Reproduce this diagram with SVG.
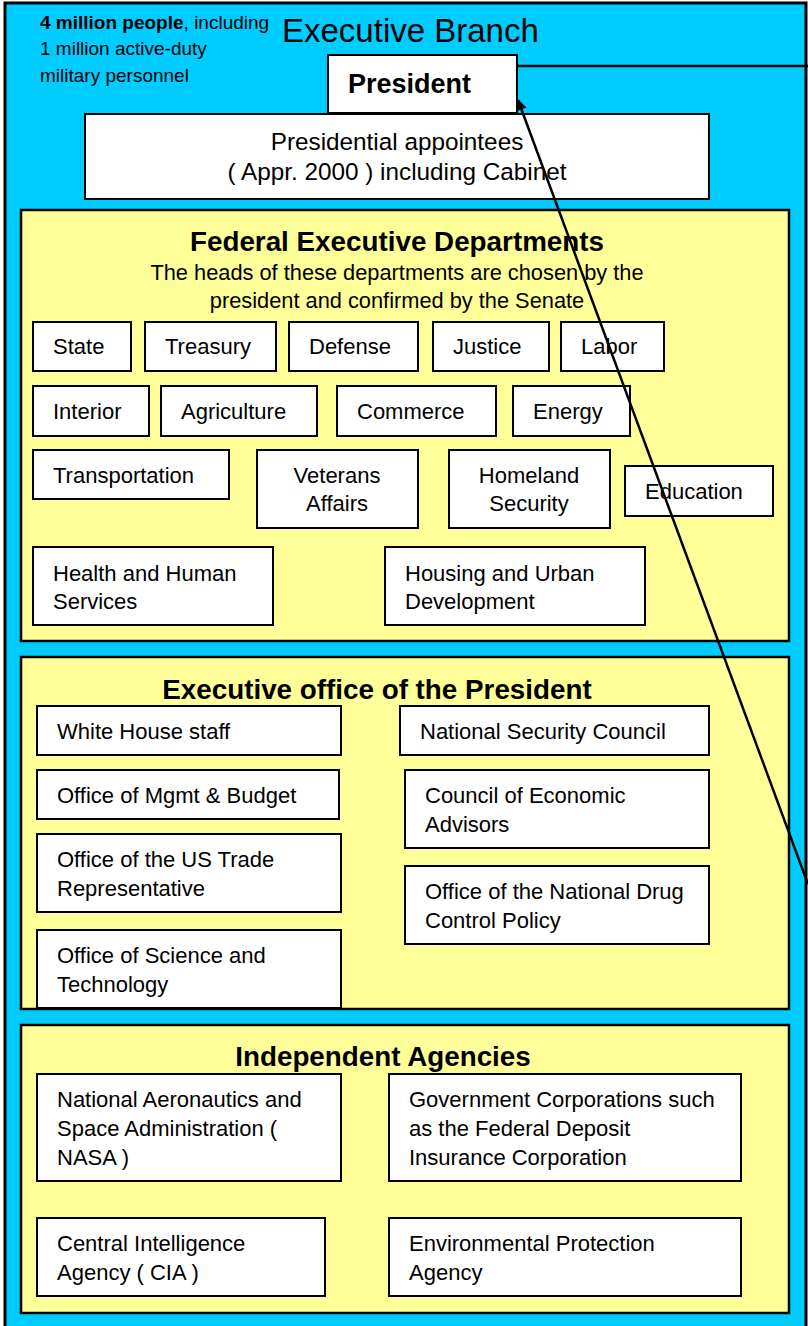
<svg xmlns="http://www.w3.org/2000/svg" width="808" height="1326" viewBox="0 0 808 1326">
<defs>
<style>
.t{font-family:"Liberation Sans",Arial,sans-serif;fill:#000}
.bx{font-size:22px}
.box{fill:#fff;stroke:#000;stroke-width:2}
.grp{fill:#FFFF99;stroke:#000;stroke-width:2.5}
.ttl{font-size:27.8px;font-weight:bold;text-anchor:middle}
.c{text-anchor:middle}
</style>
<marker id="arr" viewBox="0 0 10 10" refX="9" refY="5" markerWidth="13" markerHeight="11" markerUnits="userSpaceOnUse" orient="auto"><path d="M0,0 L10,5 L0,10 z" fill="#000"/></marker>
</defs>
<g id="executive-branch">
<rect x="5" y="3" width="801" height="1340" fill="#00CCFF" stroke="#000" stroke-width="3"/>
<text class="t" x="282" y="42" font-size="33">Executive Branch</text>
<text class="t" x="40" y="29" font-size="19"><tspan font-weight="bold">4 million people</tspan>, including</text>
<text class="t" x="40" y="55" font-size="19">1 million active-duty</text>
<text class="t" x="40" y="82" font-size="19">military personnel</text>
</g>
<g id="president">
<rect class="box" x="328" y="55" width="189" height="58"/>
<text class="t" x="348" y="93" font-size="27" font-weight="bold">President</text>
</g>
<g id="appointees">
<rect class="box" x="85" y="114" width="624" height="85"/>
<text class="t c" x="397" y="150" font-size="24.3">Presidential appointees</text>
<text class="t c" x="397" y="180" font-size="24.3">( Appr. 2000 ) including Cabinet</text>
</g>
<g id="federal-departments">
<rect class="grp" x="21" y="210" width="768" height="431"/>
<text class="t ttl" x="397" y="251">Federal Executive Departments</text>
<text class="t c" x="397" y="280" font-size="21.8">The heads of these departments are chosen by the</text>
<text class="t c" x="397" y="308" font-size="21.8">president and confirmed by the Senate</text>
</g>
<g id="state"><rect class="box" x="33" y="322" width="98" height="49"/><text class="t bx" x="53" y="354">State</text></g>
<g id="treasury"><rect class="box" x="145" y="322" width="131" height="49"/><text class="t bx" x="165" y="354">Treasury</text></g>
<g id="defense"><rect class="box" x="289" y="322" width="129" height="49"/><text class="t bx" x="309" y="354">Defense</text></g>
<g id="justice"><rect class="box" x="433" y="322" width="116" height="49"/><text class="t bx" x="453" y="354">Justice</text></g>
<g id="labor"><rect class="box" x="561" y="322" width="103" height="49"/><text class="t bx" x="581" y="354">Labor</text></g>
<g id="interior"><rect class="box" x="33" y="386" width="116" height="50"/><text class="t bx" x="53" y="419">Interior</text></g>
<g id="agriculture"><rect class="box" x="161" y="386" width="156" height="50"/><text class="t bx" x="181" y="419">Agriculture</text></g>
<g id="commerce"><rect class="box" x="337" y="386" width="159" height="50"/><text class="t bx" x="357" y="419">Commerce</text></g>
<g id="energy"><rect class="box" x="513" y="386" width="117" height="50"/><text class="t bx" x="533" y="419">Energy</text></g>
<g id="transportation"><rect class="box" x="33" y="450" width="196" height="49"/><text class="t bx" x="53" y="483">Transportation</text></g>
<g id="veterans"><rect class="box" x="257" y="450" width="161" height="78"/><text class="t bx c" x="337" y="483">Veterans</text><text class="t bx c" x="337" y="511">Affairs</text></g>
<g id="homeland"><rect class="box" x="449" y="450" width="161" height="78"/><text class="t bx c" x="529" y="483">Homeland</text><text class="t bx c" x="529" y="511">Security</text></g>
<g id="education"><rect class="box" x="625" y="466" width="148" height="50"/><text class="t bx" x="645" y="499">Education</text></g>
<g id="hhs"><rect class="box" x="33" y="547" width="240" height="78"/><text class="t bx" x="53" y="581">Health and Human</text><text class="t bx" x="53" y="609">Services</text></g>
<g id="hud"><rect class="box" x="385" y="547" width="260" height="78"/><text class="t bx" x="405" y="581">Housing and Urban</text><text class="t bx" x="405" y="609">Development</text></g>
<g id="executive-office">
<rect class="grp" x="21" y="657" width="768" height="352"/>
<text class="t ttl" x="377" y="699">Executive office of the President</text>
</g>
<g id="whitehouse"><rect class="box" x="37" y="706" width="304" height="49"/><text class="t bx" x="57" y="739">White House staff</text></g>
<g id="nsc"><rect class="box" x="400" y="706" width="309" height="49"/><text class="t bx" x="420" y="739">National Security Council</text></g>
<g id="omb"><rect class="box" x="37" y="770" width="302" height="49"/><text class="t bx" x="57" y="803">Office of Mgmt &amp; Budget</text></g>
<g id="cea"><rect class="box" x="405" y="770" width="304" height="78"/><text class="t bx" x="425" y="803">Council of Economic</text><text class="t bx" x="425" y="832">Advisors</text></g>
<g id="ustr"><rect class="box" x="37" y="834" width="304" height="78"/><text class="t bx" x="57" y="867">Office of the US Trade</text><text class="t bx" x="57" y="896">Representative</text></g>
<g id="ondcp"><rect class="box" x="405" y="866" width="304" height="78"/><text class="t bx" x="425" y="899">Office of the National Drug</text><text class="t bx" x="425" y="928">Control Policy</text></g>
<g id="ostp"><rect class="box" x="37" y="930" width="304" height="78"/><text class="t bx" x="57" y="963">Office of Science and</text><text class="t bx" x="57" y="992">Technology</text></g>
<g id="independent-agencies">
<rect class="grp" x="21" y="1025" width="768" height="288"/>
<text class="t ttl" x="383" y="1066">Independent Agencies</text>
</g>
<g id="nasa"><rect class="box" x="37" y="1074" width="304" height="107"/><text class="t bx" x="57" y="1107">National Aeronautics and</text><text class="t bx" x="57" y="1136">Space Administration (</text><text class="t bx" x="57" y="1165">NASA )</text></g>
<g id="govcorp"><rect class="box" x="389" y="1074" width="352" height="107"/><text class="t bx" x="409" y="1107">Government Corporations such</text><text class="t bx" x="409" y="1136">as the Federal Deposit</text><text class="t bx" x="409" y="1165">Insurance Corporation</text></g>
<g id="cia"><rect class="box" x="37" y="1218" width="288" height="78"/><text class="t bx" x="57" y="1251">Central Intelligence</text><text class="t bx" x="57" y="1280">Agency ( CIA )</text></g>
<g id="epa"><rect class="box" x="389" y="1218" width="352" height="78"/><text class="t bx" x="409" y="1251">Environmental Protection</text><text class="t bx" x="409" y="1280">Agency</text></g>
<g id="connectors" stroke="#000" stroke-width="2.5" fill="none">
<line x1="517" y1="66" x2="808" y2="66"/>
<line x1="808" y1="884" x2="518" y2="100" marker-end="url(#arr)"/>
</g>
</svg>
